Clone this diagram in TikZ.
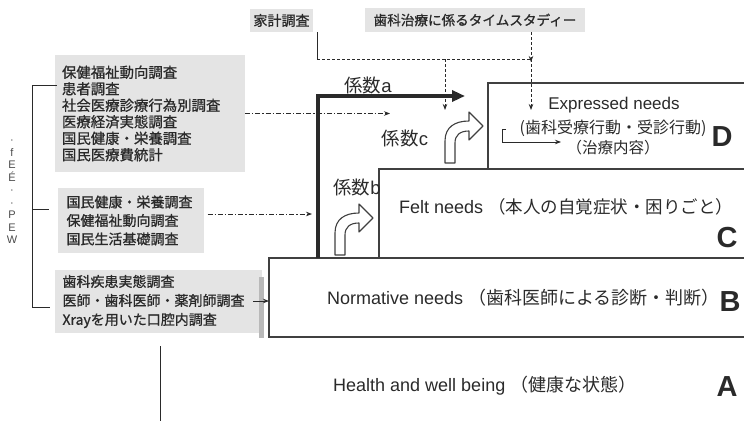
\documentclass[tikz,border=0pt]{standalone}
\usepackage{fontspec}
\setmainfont{Liberation Sans}
\newfontfamily\jp{Noto Sans CJK JP}
\newfontfamily\jpb{Noto Sans CJK JP}[FakeBold=0.9]
\usetikzlibrary{arrows.meta,calc}
\definecolor{ink}{HTML}{2A2A2A}
\definecolor{srcgray}{HTML}{E4E4E4}
\definecolor{edge}{HTML}{404040}
\tikzset{
  srcbox/.style={fill=srcgray, inner sep=0pt, text=ink, align=left, font=\jpb\fontsize{14.4}{16.5}\selectfont},
  steptxt/.style={text=ink, inner sep=0pt, font=\fontsize{18}{20}\selectfont},
  letter/.style={text=ink, inner sep=0pt, font=\bfseries\fontsize{29}{30}\selectfont},
  coef/.style={text=ink, inner sep=0pt, font=\fontsize{18.5}{20}\selectfont},
  stepline/.style={draw=edge, line width=1.2pt},
  thinline/.style={draw=ink, line width=0.9pt},
  smalltip/.style={-{Stealth[length=6pt,width=4.5pt]}},
  dashline/.style={draw=ink, line width=0.8pt, dash pattern=on 3pt off 2pt},
  dashdotline/.style={draw=ink, line width=0.8pt, dash pattern=on 5pt off 2pt on 1.2pt off 2pt},
  bendarrow/.pic={\draw[edge, line width=1.1pt, fill=white, line join=round]
    (0,0) -- (0,-22) .. controls (0,-36) and (10,-42) .. (24,-42) -- (24,-51) -- (38,-37)
    -- (24,-23) -- (24,-32) .. controls (15,-32) and (10,-28) .. (10,-20) -- (10,0) -- cycle;}
}
\begin{document}
\begin{tikzpicture}[x=1pt,y=-1pt]
\useasboundingbox (0,0) rectangle (744,421);

% steps (right side runs off the picture)
\draw[stepline] (760,83) -- (488,83) -- (488,168);
\draw[stepline] (760,169) -- (379,169) -- (379,257.5);
\draw[stepline] (760,258) -- (269,258) -- (269,337) -- (760,337);

% source boxes
\node[srcbox, minimum width=190pt, minimum height=117pt, text width=176pt] (g1) at (150,113.5)
  {保健福祉動向調査\\患者調査\\社会医療診療行為別調査\\医療経済実態調査\\国民健康・栄養調査\\国民医療費統計};
\node[srcbox, font=\jpb\fontsize{14}{18.5}\selectfont, minimum width=146pt, minimum height=65pt, text width=128pt] (g2) at (130.5,220.5)
  {国民健康・栄養調査\\保健福祉動向調査\\国民生活基礎調査};
\node[srcbox, font=\jpb\fontsize{14}{19}\selectfont, minimum width=207pt, minimum height=63pt, text width=192pt] (g3) at (158.5,301.5)
  {歯科疾患実態調査\\医師・歯科医師・薬剤師調査\\Xrayを用いた口腔内調査};
\fill[gray!55] (259,277) rectangle (264,338);

\node[srcbox, font=\jpb\fontsize{14}{16}\selectfont, minimum width=63pt, minimum height=23pt] (kakei) at (281.5,20.5) {家計調査};
\node[srcbox, font=\jpb\fontsize{13.6}{16}\selectfont, minimum width=220pt, minimum height=24pt] (time) at (475,20) {歯科治療に係るタイムスタディー};

% left bracket
\draw[thinline] ($(g1.west)+(2,-28.5)$) -- (32,85) -- (32,307) -- ($(g3.west)+(-5,5.5)$);
\draw[thinline] (32,209) -- ($(g2.west)+(-8,-11.5)$);
\draw[thinline] (160,346) -- (160,421);
\node[text=ink!85, font=\fontsize{11}{12.5}\selectfont, align=center, inner sep=0pt] (pew) at (12,192)
  {·\\f\\E\\É\\·\\·\\P\\E\\W};

% top dashed connectors
\coordinate (j1) at (317,59);
\coordinate (j2) at (531,59);
\coordinate (j3) at (445,59);
\coordinate (cEnd) at (445,110);
\coordinate (eTop) at (531,110);
\draw[thinline, line width=0.8pt] (kakei.south east -| j1) -- (j1);
\draw[dashline] (j1) -- (j2);
\draw[dashline, smalltip] (j3) -- (cEnd);
\draw[dashline, smalltip] (time.south -| j2) -- ([yshift=-3pt]j2);
\draw[dashline, smalltip] (j2) -- (eTop);

% thick coefficient a arrow
\draw[draw=ink, line width=3.2pt, -{Triangle[length=13pt,width=11pt]}] (318,258) |- (465,96);

% dash-dot arrows
\coordinate (ddEnd1) at (390,113.5);
\coordinate (ddEnd2) at (312,214);
\coordinate (bIn) at (269,301);
\draw[dashdotline, smalltip] (g1.east) -- (ddEnd1);
\draw[dashdotline, smalltip] ($(g2.east)+(4,-6.5)$) -- (ddEnd2);
\draw[thinline, line width=0.8pt, smalltip] (253,301) -- (bIn);

% coefficient labels
\node[coef] (ka) at (368,85) {{\jp 係数}a};
\node[coef] (kc) at (405,138) {{\jp 係数}c};
\node[coef] (kb) at (357,187) {{\jp 係数}b};

% bend arrows
\pic at (445,163) {bendarrow};
\pic at (335,255) {bendarrow};

% D box texts
\node[steptxt, font=\fontsize{17}{19}\selectfont] (dn) at (614,105) {Expressed needs};
\node[steptxt, font=\jp\fontsize{16}{18}\selectfont] (dj) at (613,128) {(歯科受療行動・受診行動)};
\node[steptxt, font=\jp\fontsize{15.5}{18}\selectfont] (dk) at (613,148) {（治療内容）};
\draw[thinline, line width=0.8pt, smalltip] (506,129) -- (502,129) -- (502,142) -- (561,142);

% step texts
\node[steptxt, anchor=west] (felt) at (399,207) {Felt needs {\jp\fontsize{17.5}{20}\selectfont （本人の自覚症状・困りごと）}};
\node[steptxt, anchor=west] (norm) at (327,298) {Normative needs {\jp （歯科医師による診断・判断）}};
\node[steptxt, anchor=west] (health) at (333,386) {Health and well being {\jp （健康な状態）}};

% letters
\node[letter] (D) at (722,137) {D};
\node[letter] (C) at (727,238) {C};
\node[letter] (B) at (730,302) {B};
\node[letter] (A) at (727,387) {A};
\end{tikzpicture}
\end{document}
